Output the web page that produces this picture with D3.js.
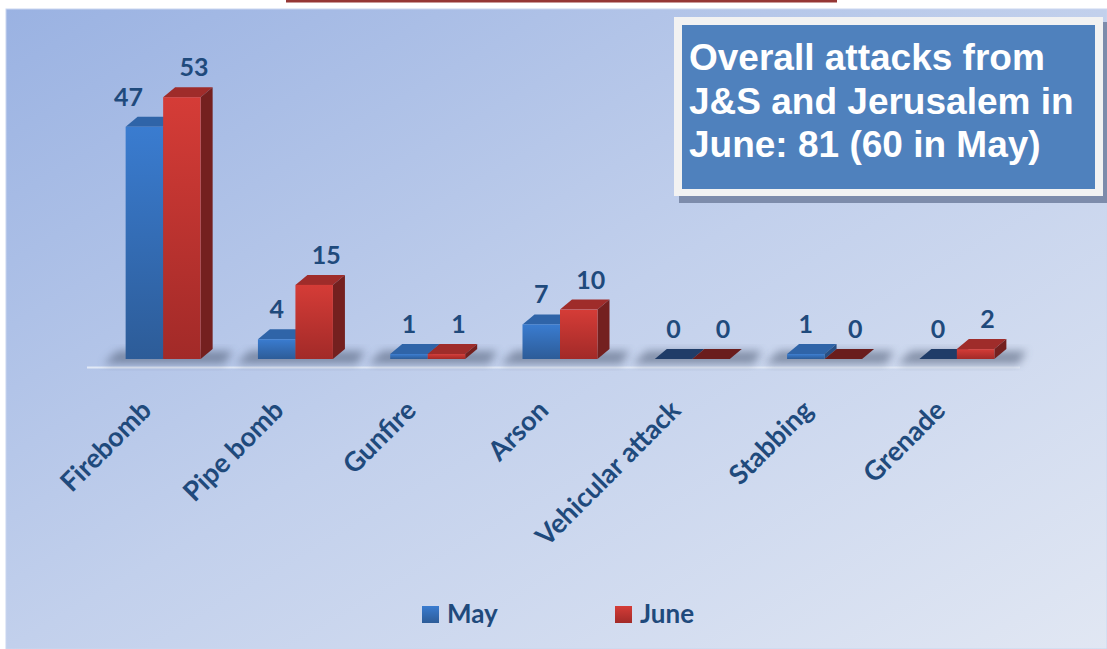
<!DOCTYPE html>
<html>
<head>
<meta charset="utf-8">
<script src="https://cdn.jsdelivr.net/npm/d3@7"></script>
<style>
  html, body { margin: 0; padding: 0; background: #ffffff; }
  svg { display: block; }
</style>
</head>
<body>
<div id="chart"></div>
<script>
// ---- data ----
const categories = ["Firebomb", "Pipe bomb", "Gunfire", "Arson", "Vehicular attack", "Stabbing", "Grenade"];
const seriesNames = ["May", "June"];
const mayValues = [47, 4, 1, 7, 0, 1, 0];
const juneValues = [53, 15, 1, 10, 0, 0, 2];
const titleLines = ["Overall attacks from", "J&S and Jerusalem in", "June: 81 (60 in May)"];

const W = 1107, H = 649;
const svg = d3.select("#chart").append("svg").attr("width", W).attr("height", H);
const defs = svg.append("defs");

// background gradient
const bg = defs.append("linearGradient").attr("id", "bg").attr("x1", "0").attr("y1", "0").attr("x2", "1").attr("y2", "1");
bg.append("stop").attr("offset", "0%").attr("stop-color", "#9ab2e2");
bg.append("stop").attr("offset", "50%").attr("stop-color", "#c2d0ec");
bg.append("stop").attr("offset", "100%").attr("stop-color", "#e1e7f3");

const palette = {
  May: { top: "#3a7cd0", bottom: "#2d5c98", side: "#274f85", cap: "#2f64a8", capZero: "#1f3c68" },
  June: { top: "#d53c37", bottom: "#a22a28", side: "#74201f", cap: "#9f2c2a", capZero: "#6a1d1d" }
};
seriesNames.forEach(s => {
  const g = defs.append("linearGradient").attr("id", "front" + s).attr("x1", 0).attr("y1", 0).attr("x2", 0).attr("y2", 1);
  g.append("stop").attr("offset", "0%").attr("stop-color", palette[s].top);
  g.append("stop").attr("offset", "100%").attr("stop-color", palette[s].bottom);
});
const blur = defs.append("filter").attr("id", "blur").attr("x", "-50%").attr("y", "-50%").attr("width", "200%").attr("height", "200%");
blur.append("feGaussianBlur").attr("stdDeviation", 4);

// top red rule of the page
svg.append("rect").attr("x", 286).attr("y", 0).attr("width", 551).attr("height", 2.5).attr("fill", "#953735");

// panel
svg.append("rect").attr("x", 6).attr("y", 9).attr("width", W - 6).attr("height", H - 9)
  .attr("fill", "url(#bg)").attr("stroke", "#c9d6ef").attr("stroke-width", 1);

// scales
const x = d3.scaleBand().domain(categories).range([97, 1023]).paddingInner(0.433).paddingOuter(0.2165);
const xs = d3.scaleBand().domain(seriesNames).range([0, x.bandwidth()]);
const y = d3.scaleLinear().domain([0, 60]).range([359, 62.6]);
const DX = 12, DY = -10;

const rows = categories.map((c, i) => ({ cat: c, vals: [
  { s: "May", v: mayValues[i] },
  { s: "June", v: juneValues[i] }
]}));

// floor line
svg.append("line").attr("x1", 87).attr("x2", 1020).attr("y1", 367.5).attr("y2", 367.5)
  .attr("stroke", "#e2e9f6").attr("stroke-width", 2);

// shadows under groups
svg.append("g").selectAll("path").data(rows).join("path")
  .attr("d", d => {
    const x0 = x(d.cat) - 22, x1 = x(d.cat) + x.bandwidth() + DX + 20, yb = y(0);
    return `M${x0},${yb + 5} L${x1 - 8},${yb + 5} L${x1},${yb - 8} L${x0 + 14},${yb - 8} Z`;
  })
  .attr("fill", "#4a5670").attr("opacity", 0.55).attr("filter", "url(#blur)");

// bars
const bars = svg.append("g");
rows.forEach(r => {
  r.vals.forEach(b => {
    const x0 = x(r.cat) + xs(b.s), w = xs.bandwidth();
    const yt = y(b.v), yb = y(0);
    const g = bars.append("g");
    g.append("path")
      .attr("d", `M${x0},${yt} L${x0 + DX},${yt + DY} L${x0 + w + DX},${yt + DY} L${x0 + w},${yt} Z`)
      .attr("fill", b.v === 0 ? palette[b.s].capZero : palette[b.s].cap);
    if (b.v > 0) {
      g.append("path")
        .attr("d", `M${x0 + w},${yt} L${x0 + w + DX},${yt + DY} L${x0 + w + DX},${yb + DY} L${x0 + w},${yb} Z`)
        .attr("fill", palette[b.s].side);
      g.append("rect").attr("x", x0).attr("y", yt).attr("width", w).attr("height", yb - yt)
        .attr("fill", "url(#front" + b.s + ")");
    }
  });
});

// value labels
const labelColor = "#1f4a7c";
const vl = svg.append("g").attr("font-family", "Lato, 'Open Sans', sans-serif").attr("font-weight", 700)
  .attr("font-size", 25).attr("fill", labelColor).attr("text-anchor", "middle");
rows.forEach(r => {
  r.vals.forEach(b => {
    let off = b.s === "May" ? 0 : 12;
    // a tall May label sitting beside a taller June bar is nudged left
    if (b.s === "May" && r.vals[1].v > b.v && b.v > 20) off = -16;
    vl.append("text")
      .attr("x", x(r.cat) + xs(b.s) + xs.bandwidth() / 2 + off)
      .attr("y", y(b.v) - 21)
      .text(b.v);
  });
});

// category labels
svg.append("g").attr("font-family", "Lato, 'Open Sans', sans-serif").attr("font-weight", 700)
  .attr("font-size", 27).attr("fill", labelColor).attr("text-anchor", "end")
  .selectAll("text").data(categories).join("text")
  .attr("transform", d => `translate(${x(d) + x.bandwidth() / 2 - 10},412) rotate(-45)`)
  .text(d => d);

// legend
const legendX = { May: 422, June: 615 };
const lg = svg.append("g");
seriesNames.forEach(s => {
  lg.append("rect").attr("x", legendX[s]).attr("y", 606).attr("width", 17).attr("height", 17)
    .attr("fill", "url(#front" + s + ")");
  lg.append("text").attr("x", legendX[s] + 25).attr("y", 623)
    .attr("font-family", "Lato, 'Open Sans', sans-serif").attr("font-weight", 700).attr("font-size", 26)
    .attr("fill", labelColor).text(s);
});

// title box
const tb = svg.append("g");
tb.append("rect").attr("x", 679).attr("y", 22).attr("width", 428).attr("height", 181).attr("fill", "#7d8cab");
tb.append("rect").attr("x", 674).attr("y", 17).attr("width", 429).attr("height", 179).attr("fill", "#f2f2f2");
tb.append("rect").attr("x", 682).attr("y", 25).attr("width", 413).attr("height", 164).attr("fill", "#4f81bd");
tb.append("g").attr("font-family", "'Liberation Sans', Arial, sans-serif").attr("font-weight", 700)
  .attr("font-size", 37).attr("fill", "#ffffff")
  .selectAll("text").data(titleLines).join("text")
  .attr("x", 689).attr("y", (d, i) => 70 + i * 43.5).text(d => d);
</script>
</body>
</html>
